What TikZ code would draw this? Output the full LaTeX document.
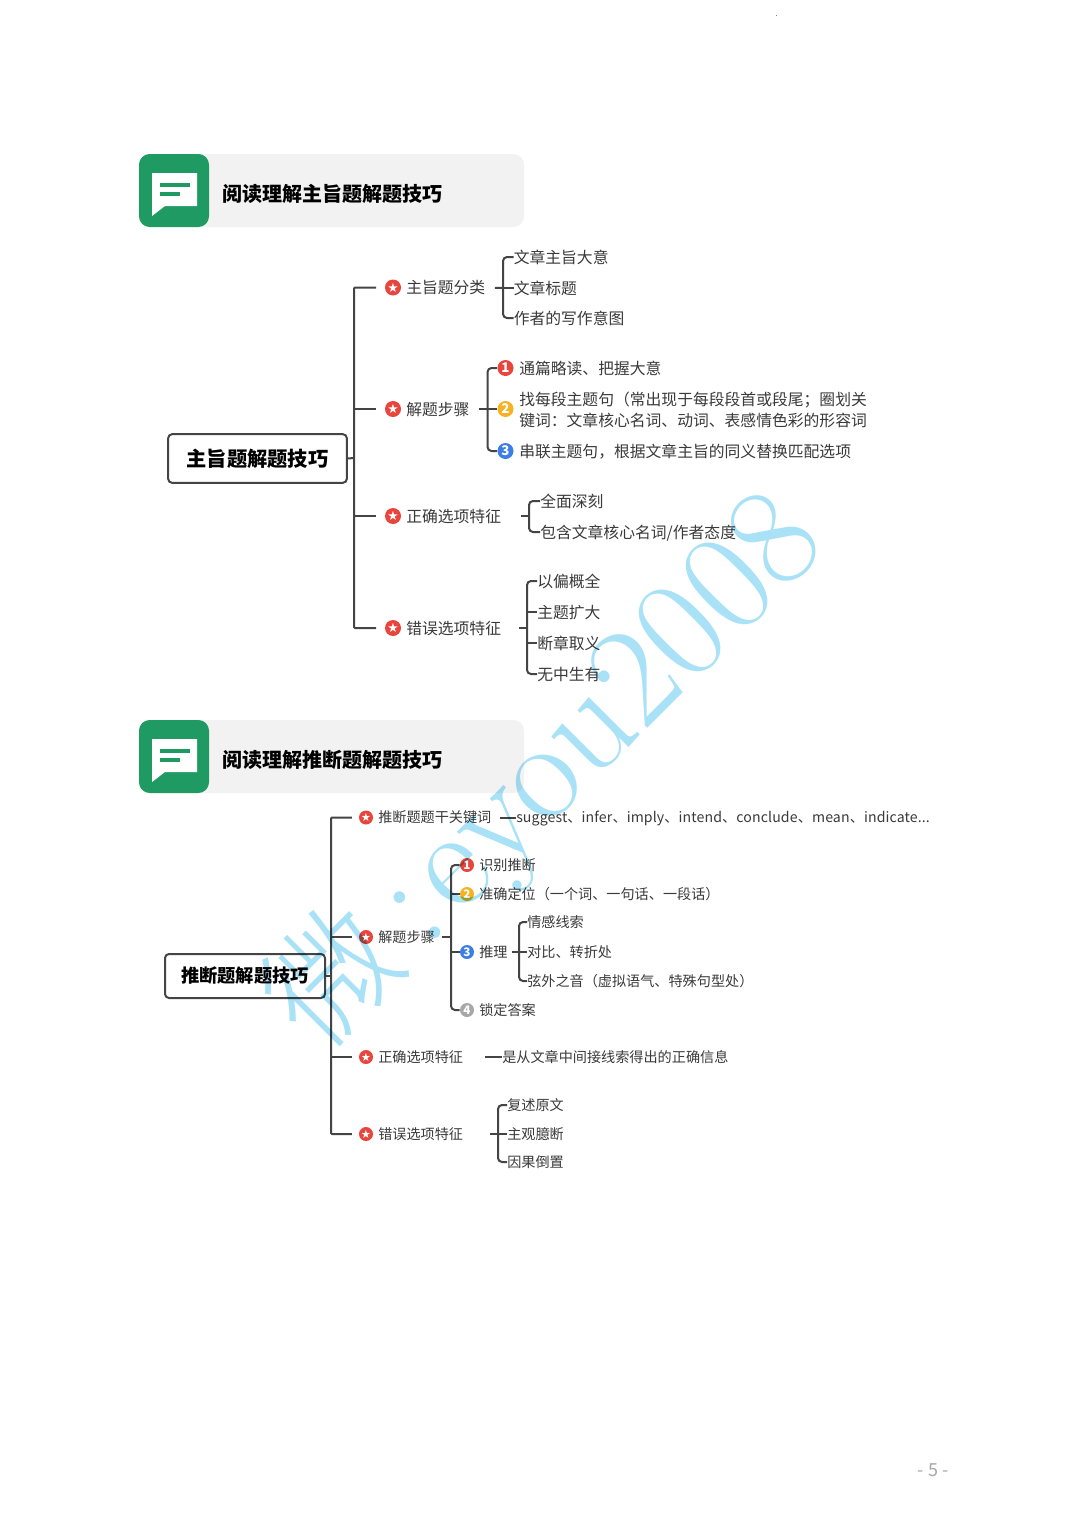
\documentclass[tikz,border=0pt]{standalone}
\usepackage{fontspec}
\setmainfont{Noto Sans CJK SC}
\newfontfamily\wmlat{Latin Modern Roman}
\newfontfamily\wmcjk{Noto Sans CJK SC}[UprightFont={* Light}]
\newfontfamily\dejav{DejaVu Sans}
\usetikzlibrary{calc}
\definecolor{ink}{HTML}{3A3A3A}
\definecolor{linec}{HTML}{444444}
\definecolor{hgreen}{HTML}{1F9A62}
\definecolor{hgrey}{HTML}{F2F2F2}
\definecolor{wm}{HTML}{A9E2F7}
\definecolor{cred}{HTML}{E8453C}
\definecolor{cyel}{HTML}{F5B223}
\definecolor{cblu}{HTML}{3B7FE6}
\definecolor{cgry}{HTML}{A8A8A8}
\tikzset{
  conn/.style={draw=linec,line width=1.5pt,rounded corners=3pt},
  trunk/.style={draw=linec,line width=1.5pt,rounded corners=.8pt},
  lab/.style={anchor=west,inner sep=0pt,text=ink,font=\fontsize{11.85}{15}\selectfont,text height=.96em,text depth=.04em},
  labs/.style={anchor=west,inner sep=0pt,text=ink,font=\fontsize{10.6}{13}\selectfont,text height=.88em,text depth=.12em},
  para/.style={anchor=west,inner sep=0pt,text=ink,font=\fontsize{11.85}{15.4}\selectfont,align=left},
  rootb/.style={draw=linec,line width=1.5pt,rounded corners=3pt,fill=white,inner sep=0pt,text=black,font=\bfseries\fontsize{15.2}{18}\selectfont},
  rootc/.style={rootb,font=\bfseries\fontsize{13.7}{16}\selectfont},
  htitle/.style={anchor=west,inner sep=0pt,text=black,font=\bfseries\fontsize{15}{18}\selectfont},
  badge/.style={circle,fill=#1,inner sep=0pt,minimum size=12pt,text=white,font=\bfseries\fontsize{10}{10}\selectfont},
  badges/.style={circle,fill=#1,inner sep=0pt,minimum size=10.5pt,text=white,font=\bfseries\fontsize{8.8}{9}\selectfont},
  starbadge/.style={badge=cred,font=\dejav\fontsize{9.5}{10}\selectfont},
  starbadges/.style={badges=cred,font=\dejav\fontsize{8.5}{9}\selectfont},
}
\newcommand{\headerbar}[3]{%
  \fill[hgrey,rounded corners=8pt] (190,#1) rectangle (524,#1+73);
  \fill[hgreen,rounded corners=8pt] (139,#1) rectangle (209,#1+73);
  \fill[white] (152,#1+19) -- (197,#1+19) -- (197,#1+52) -- (165,#1+52) -- (152,#1+62) -- cycle;
  \fill[hgreen] (160,#1+29) rectangle (190,#1+33);
  \fill[hgreen] (160,#1+38) rectangle (180,#1+42);
  \node[htitle] (#2) at (222,#1+40) {#3};
}
\begin{document}
\begin{tikzpicture}[x=0.75pt,y=-0.75pt]
\useasboundingbox (0,0) rectangle (1080,1528);
\fill[white] (0,0) rectangle (1080,1528);
\fill[gray] (775.5,14.5) rectangle (776.5,15.5);
\headerbar{154}{h1}{阅读理解主旨题解题技巧}
\headerbar{720}{h2}{阅读理解推断题解题技巧}

% ---------- map 1
\node[rootb,minimum width=134pt,minimum height=36.5pt] (r1) at (257.5,458.5) {主旨题解题技巧};
\coordinate (t1) at (354,458);
\node[starbadge] (s11) at (393,287.5) {★};
\node[lab] (a11) at (406,287.5) {主旨题分类};
\node[starbadge] (s12) at (393,409) {★};
\node[lab] (a12) at (406,409) {解题步骤};
\node[starbadge] (s13) at (393,516) {★};
\node[lab] (a13) at (406,516) {正确选项特征};
\node[starbadge] (s14) at (393,628) {★};
\node[lab] (a14) at (406,628) {错误选项特征};
\draw[trunk] (r1.east) -- (t1);
\draw[trunk,shorten >=6.5pt] (t1 |- s12) -- (s12.west);
\draw[trunk,shorten >=6.5pt] (t1 |- s13) -- (s13.west);
\draw[trunk] ($(s11.west)+(-6.5pt,0)$) -| (t1) |- ($(s14.west)+(-6.5pt,0)$);

\node[lab] (b1) at (513.5,257) {文章主旨大意};
\node[lab] (b2) at (513.5,288) {文章标题};
\node[lab] (b3) at (513.5,318) {作者的写作意图};
\coordinate (j1) at (503,288);
\draw[conn,shorten <=7pt] (a11.east) -- (j1);
\draw[conn] (b1.west) -| (j1) |- (b3.west);
\draw[conn] (j1) -- (b2.west);

\node[badge=cred] (c1) at (505.5,368) {1};
\node[badge=cyel] (c2) at (505.5,409) {2};
\node[badge=cblu] (c3) at (505.5,451) {3};
\node[lab] (d1) at (519,368) {通篇略读、把握大意};
\node[para] (d2) at (519,410) {找每段主题句（常出现于每段段首或段尾；圈划关\\键词：文章核心名词、动词、表感情色彩的形容词};
\node[lab] (d3) at (519,451) {串联主题句，根据文章主旨的同义替换匹配选项};
\coordinate (j2) at (487.5,409);
\draw[conn,shorten <=7pt] (a12.east) -- (j2);
\draw[conn] (c1.west) -| (j2) |- (c3.west);
\draw[conn] (j2) -- (c2.west);

\node[lab] (e1) at (540,501) {全面深刻};
\node[lab] (e2) at (540,532) {包含文章核心名词/作者态度};
\coordinate (j3) at (529,516);
\draw[conn,shorten <=15pt] (a13.east) -- (j3);
\draw[conn] (e1.west) -| (j3) |- (e2.west);

\node[lab] (f1) at (537,581) {以偏概全};
\node[lab] (f2) at (537,612) {主题扩大};
\node[lab] (f3) at (537,643) {断章取义};
\node[lab] (f4) at (537,674) {无中生有};
\coordinate (j4) at (527,628);
\draw[conn,shorten <=13pt] (a14.east) -- (j4);
\draw[conn] (f1.west) -| (j4) |- (f4.west);
\draw[conn] (j4 |- f2) -- (f2.west);
\draw[conn] (j4 |- f3) -- (f3.west);

% ---------- map 2
\node[rootc,minimum width=120pt,minimum height=33pt] (r2) at (245,976) {推断题解题技巧};
\coordinate (t2) at (331,976);
\node[starbadges] (s21) at (366,817.5) {★};
\node[labs] (a21) at (378,817.5) {推断题题干关键词};
\node[starbadges] (s22) at (366,937) {★};
\node[labs] (a22) at (378,937) {解题步骤};
\node[starbadges] (s23) at (366,1057) {★};
\node[labs] (a23) at (378,1057) {正确选项特征};
\node[starbadges] (s24) at (366,1134) {★};
\node[labs] (a24) at (378,1134) {错误选项特征};
\draw[trunk] (r2.east) -- (t2);
\draw[trunk,shorten >=5.2pt] (t2 |- s22) -- (s22.west);
\draw[trunk,shorten >=5.2pt] (t2 |- s23) -- (s23.west);
\draw[trunk] ($(s21.west)+(-5.2pt,0)$) -| (t2) |- ($(s24.west)+(-5.2pt,0)$);

\node[labs,font=\fontsize{10.6}{13}\selectfont\addfontfeatures{LetterSpace=0.8}] (g1) at (516,817.5) {suggest、infer、imply、intend、conclude、mean、indicate...};
\draw[conn,shorten <=6.5pt] (a21.east) -- (g1.west);

\node[badges=cred] (m1) at (467,865) {1};
\node[badges=cyel] (m2) at (467,894) {2};
\node[badges=cblu] (m3) at (467,952) {3};
\node[badges=cgry] (m4) at (467,1010) {4};
\node[labs] (n1) at (479,865) {识别推断};
\node[labs] (n2) at (479,894) {准确定位（一个词、一句话、一段话）};
\node[labs] (n3) at (479,952) {推理};
\node[labs] (n4) at (479,1010) {锁定答案};
\coordinate (j5) at (451,937);
\draw[conn,shorten <=5.5pt] (a22.east) -- (j5);
\draw[conn] (m1.west) -| (j5) |- (m4.west);
\draw[conn] (j5 |- m2) -- (m2.west);
\draw[conn] (j5 |- m3) -- (m3.west);

\node[labs] (p1) at (527,922) {情感线索};
\node[labs] (p2) at (527,952) {对比、转折处};
\node[labs] (p3) at (527,981) {弦外之音（虚拟语气、特殊句型处）};
\coordinate (j6) at (519,952);
\draw[conn,shorten <=3pt] (n3.east) -- (j6);
\draw[conn] (p1.west) -| (j6) |- (p3.west);
\draw[conn] (j6) -- (p2.west);

\node[labs] (q1) at (502,1057) {是从文章中间接线索得出的正确信息};
\draw[conn,shorten <=16.5pt] (a23.east) -- (q1.west);

\node[labs] (u1) at (507,1105) {复述原文};
\node[labs] (u2) at (507,1134) {主观臆断};
\node[labs] (u3) at (507,1162) {因果倒置};
\coordinate (j7) at (498,1134);
\draw[conn,shorten <=20pt] (a24.east) -- (j7);
\draw[conn] (u1.west) -| (j7) |- (u3.west);
\draw[conn] (j7) -- (u2.west);

% ---------- page number
\node[inner sep=0pt,text=cgry,font=\fontsize{13.5}{15}\selectfont] (pg) at (933,1470) {- 5 -};

% ---------- watermark
\begin{scope}[blend mode=multiply]
\node[rotate=45,inner sep=0pt,text=wm,anchor=center,text height=94pt,text depth=21pt,font=\fontsize{107}{112}\selectfont] (wm) at (537.5,769.5) {\makebox[107pt]{\raisebox{.8pt}[0pt][0pt]{\wmcjk\fontsize{96}{100}\selectfont 微}}\hspace{11pt}\wmlat :\hspace{7pt}eyou2008};
\end{scope}
\end{tikzpicture}
\end{document}
